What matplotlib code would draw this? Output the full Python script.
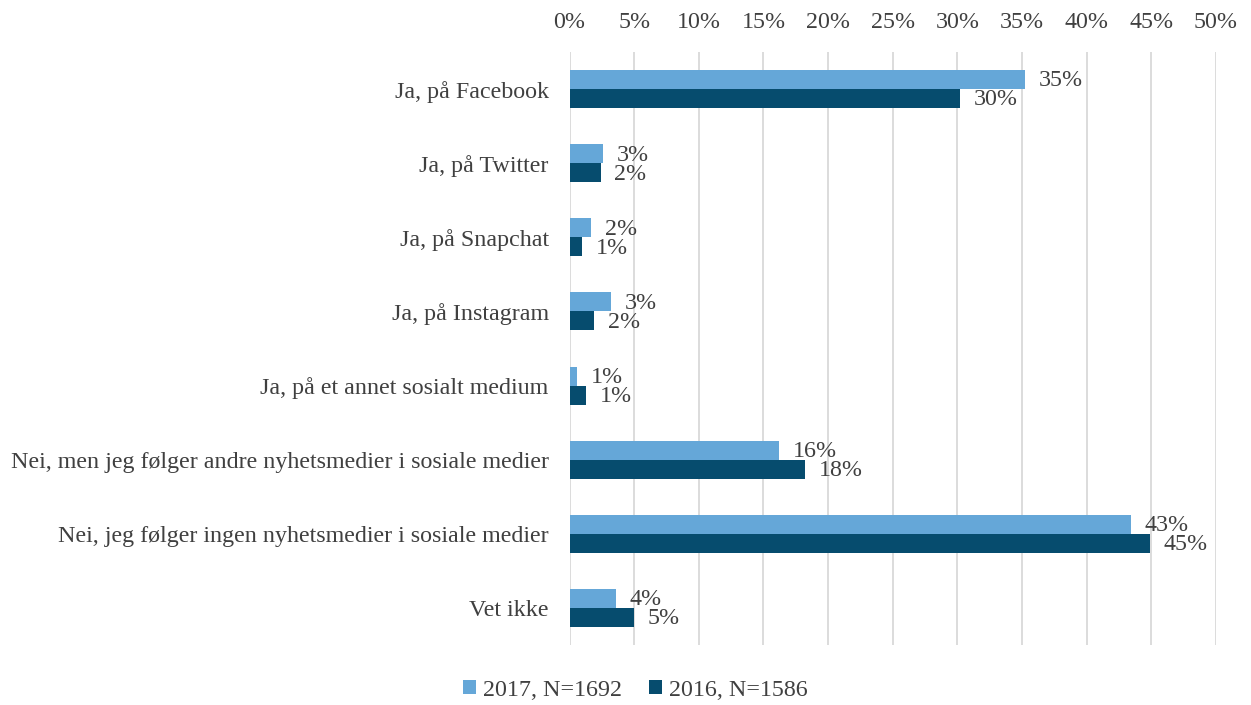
import numpy as np
import matplotlib.pyplot as plt

plt.rcParams['font.family'] = ['Liberation Serif', 'DejaVu Serif']

categories = ['Ja, på Facebook', 'Ja, på Twitter', 'Ja, på Snapchat', 'Ja, på Instagram',
              'Ja, på et annet sosialt medium',
              'Nei, men jeg følger andre nyhetsmedier i sosiale medier',
              'Nei, jeg følger ingen nyhetsmedier i sosiale medier', 'Vet ikke']
v2017 = [35.2, 2.6, 1.7, 3.2, 0.6, 16.2, 43.4, 3.6]
v2016 = [30.2, 2.4, 1.0, 1.9, 1.3, 18.2, 44.9, 5.0]
series_labels = ['2017, N=1692', '2016, N=1586']
ticks = np.arange(0, 51, 5)

c17 = '#65A7D8'
c16 = '#064C6E'
txt = '#404040'
fs = 17.3

fig = plt.figure(figsize=(12.51, 7.05), dpi=100)
ax = fig.add_axes([569.5 / 1251, 1 - 645 / 705, (1216 - 569.5) / 1251, (645 - 52) / 705])

y = np.arange(len(categories))
h = 0.257
b1 = ax.barh(y - h / 2, v2017, height=h, color=c17, label=series_labels[0])
b2 = ax.barh(y + h / 2, v2016, height=h, color=c16, label=series_labels[1])

# data labels just past the bar ends
for bars, vals in ((b1, v2017), (b2, v2016)):
    for bar, v in zip(bars, vals):
        ax.annotate('%d%%' % int(v + 0.5), (bar.get_width(), bar.get_y() + bar.get_height() / 2),
                    xytext=(10, -1), textcoords='offset points', ha='left', va='center',
                    fontsize=fs, color=txt)

ax.set_ylim(len(categories) - 0.5, -0.5)
ax.set_xlim(0, 50)
ax.set_xticks(ticks)
ax.set_xticklabels(['%d%%' % t for t in ticks])
ax.xaxis.tick_top()
ax.set_yticks(y)
ax.set_yticklabels(categories)
ax.tick_params(axis='both', length=0, labelsize=fs, labelcolor=txt)
ax.tick_params(axis='x', pad=14)
ax.tick_params(axis='y', pad=15)
ax.grid(axis='x', color='#D9D9D9', lw=1.3)
ax.set_axisbelow(True)
for s in ax.spines.values():
    s.set_visible(False)

fig.legend(loc='center', bbox_to_anchor=(0.508, 1 - 690 / 705), ncol=2, frameon=False,
           fontsize=fs, labelcolor=txt, handlelength=0.55, handleheight=0.55,
           handletextpad=0.3, columnspacing=1.1)

fig.savefig('out.png', dpi=100)
